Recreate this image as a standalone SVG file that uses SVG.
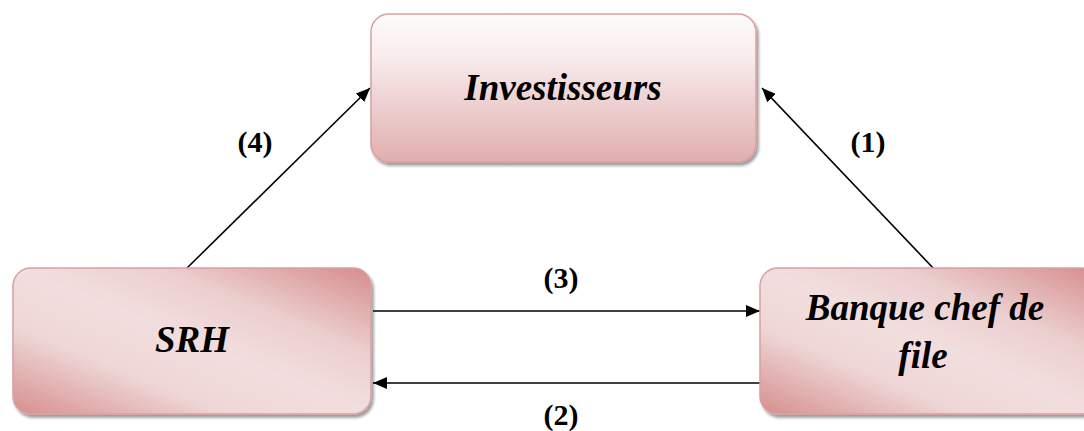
<svg xmlns="http://www.w3.org/2000/svg" width="1084" height="431" viewBox="0 0 1084 431">
<defs>
<linearGradient id="gTop" x1="0" y1="0" x2="0" y2="1">
<stop offset="0" stop-color="#fefcfc"/>
<stop offset="0.3" stop-color="#f8ebeb"/>
<stop offset="1" stop-color="#e0aeae"/>
</linearGradient>
<linearGradient id="gSide" x1="0" y1="1" x2="1" y2="0">
<stop offset="0" stop-color="#d68e8e"/>
<stop offset="0.3" stop-color="#efd6d6"/>
<stop offset="0.5" stop-color="#f2dede"/>
<stop offset="0.7" stop-color="#eccfcf"/>
<stop offset="1" stop-color="#d68c8c"/>
</linearGradient>
<filter id="sh" x="-5%" y="-5%" width="115%" height="120%">
<feGaussianBlur in="SourceAlpha" stdDeviation="1.5"/>
<feOffset dx="2" dy="3" result="b"/>
<feComponentTransfer><feFuncA type="linear" slope="0.4"/></feComponentTransfer>
<feMerge><feMergeNode/><feMergeNode in="SourceGraphic"/></feMerge>
</filter>
<marker id="ah2" viewBox="0 0 14 12" refX="14" refY="6" markerWidth="14" markerHeight="12" markerUnits="userSpaceOnUse" orient="auto">
<path d="M0,0 L14,6 L0,12 Z" fill="#000"/>
</marker>
</defs>
<style>
.box{stroke:#d9a0a0;stroke-width:1.5}
.t{font-family:"Liberation Serif",serif;font-weight:bold;font-style:italic;font-size:37px;fill:#000;text-anchor:middle}
.l{font-family:"Liberation Serif",serif;font-weight:bold;font-size:30px;fill:#000;text-anchor:middle}
.c{stroke:#000;stroke-width:1.6;fill:none}
</style>
<g id="connectors">
<line class="c" x1="185" y1="270" x2="370" y2="88" marker-end="url(#ah2)"/>
<line class="c" x1="935" y1="270" x2="762" y2="88" marker-end="url(#ah2)"/>
<line class="c" x1="373" y1="311" x2="760" y2="311" marker-end="url(#ah2)"/>
<line class="c" x1="760" y1="383" x2="373" y2="383" marker-end="url(#ah2)"/>
<text class="l" x="255" y="152">(4)</text>
<text class="l" x="868" y="152">(1)</text>
<text class="l" x="561" y="288">(3)</text>
<text class="l" x="561" y="425">(2)</text>
</g>
<g id="investisseurs">
<rect class="box" x="371" y="14" width="385" height="148" rx="18" fill="url(#gTop)" filter="url(#sh)"/>
<text class="t" x="563" y="100">Investisseurs</text>
</g>
<g id="srh">
<rect class="box" x="13" y="268" width="358" height="146" rx="18" fill="url(#gSide)" filter="url(#sh)"/>
<text class="t" x="192" y="352">SRH</text>
</g>
<g id="banque">
<rect class="box" x="760" y="268" width="340" height="146" rx="18" fill="url(#gSide)" filter="url(#sh)"/>
<text class="t" x="925" y="320">Banque chef de</text>
<text class="t" x="923" y="368">file</text>
</g>
</svg>
